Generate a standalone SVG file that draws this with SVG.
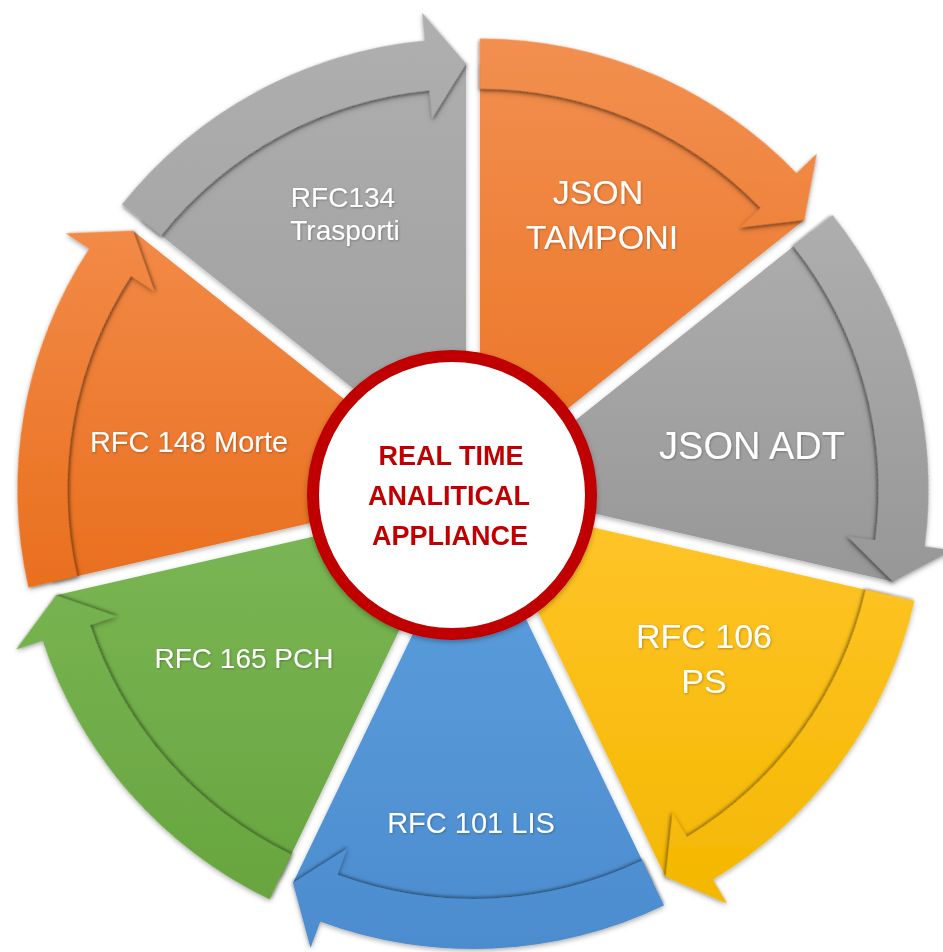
<svg xmlns="http://www.w3.org/2000/svg" width="943" height="952" viewBox="0 0 943 952">
<style>
.lbl{font-family:"Liberation Sans",Arial,sans-serif;fill:#ffffff;text-anchor:middle;filter:url(#ts)}
.ctr{font-family:"Liberation Sans",Arial,sans-serif;font-weight:bold;fill:#C00000;text-anchor:middle;font-size:27px}
</style>
<defs>
<filter id="sh" x="-10%" y="-10%" width="120%" height="120%"><feDropShadow dx="0" dy="2" stdDeviation="2.5" flood-color="#000" flood-opacity="0.3"/></filter>
<filter id="bs" x="-15%" y="-10%" width="130%" height="120%"><feDropShadow dx="-2" dy="0" stdDeviation="1.5" flood-color="#000" flood-opacity="0.35"/></filter>
<filter id="ts" x="-10%" y="-20%" width="120%" height="140%"><feDropShadow dx="0.8" dy="0.8" stdDeviation="0.8" flood-color="#000" flood-opacity="0.3"/></filter>
<path id="body" d="M0,0 L373.90,-180.06 A415,415 0 0 1 373.90,180.06 Z"/>
<path id="band" d="M396.43,-190.91 A440,440 0 0 1 412.60,152.87 L438.85,162.60 L373.90,180.06 L339.45,125.77 L365.71,135.50 A390,390 0 0 0 351.38,-169.21 Z"/>
<linearGradient id="g0" gradientUnits="userSpaceOnUse" gradientTransform="rotate(115.714)" x1="0" y1="-468" x2="0" y2="2"><stop offset="0" stop-color="#AFAFAF"/><stop offset="1" stop-color="#9E9E9E"/></linearGradient>
<linearGradient id="g1" gradientUnits="userSpaceOnUse" gradientTransform="rotate(64.286)" x1="0" y1="-438" x2="0" y2="2"><stop offset="0" stop-color="#F28F50"/><stop offset="1" stop-color="#EB7423"/></linearGradient>
<linearGradient id="g2" gradientUnits="userSpaceOnUse" gradientTransform="rotate(12.857)" x1="0" y1="-275" x2="0" y2="110"><stop offset="0" stop-color="#AEAEAE"/><stop offset="1" stop-color="#969696"/></linearGradient>
<linearGradient id="g3" gradientUnits="userSpaceOnUse" gradientTransform="rotate(-38.571)" x1="0" y1="0" x2="0" y2="407"><stop offset="0" stop-color="#FFC52A"/><stop offset="1" stop-color="#F4B700"/></linearGradient>
<linearGradient id="g4" gradientUnits="userSpaceOnUse" gradientTransform="rotate(-90)" x1="0" y1="-10" x2="0" y2="441"><stop offset="0" stop-color="#5DA0DD"/><stop offset="1" stop-color="#4C8CCF"/></linearGradient>
<linearGradient id="g5" gradientUnits="userSpaceOnUse" gradientTransform="rotate(-141.429)" x1="0" y1="37" x2="0" y2="397"><stop offset="0" stop-color="#79B553"/><stop offset="1" stop-color="#68A53F"/></linearGradient>
<linearGradient id="g6" gradientUnits="userSpaceOnUse" gradientTransform="rotate(-192.857)" x1="0" y1="-260" x2="0" y2="100"><stop offset="0" stop-color="#F28A47"/><stop offset="1" stop-color="#E96F1E"/></linearGradient>
</defs>
<rect width="943" height="952" fill="#ffffff"/>

<g id="node-rfc134">
<g filter="url(#sh)"><use href="#body" fill="url(#g0)" transform="translate(466.06 478.58) rotate(-115.714)"/></g>
<text class="lbl" font-size="28" x="343" y="207">RFC134</text>
<text class="lbl" font-size="28" x="345" y="240">Trasporti</text>
</g>
<g id="node-json-tamponi">
<g filter="url(#sh)"><use href="#body" fill="url(#g1)" transform="translate(479.94 478.58) rotate(-64.286)"/></g>
<text class="lbl" font-size="34" x="598" y="204">JSON</text>
<text class="lbl" font-size="34" x="602" y="249">TAMPONI</text>
</g>
<g id="node-json-adt">
<g filter="url(#sh)"><use href="#body" fill="url(#g2)" transform="translate(488.60 489.44) rotate(-12.857)"/></g>
<text class="lbl" font-size="38" x="752" y="459">JSON ADT</text>
</g>
<g id="node-rfc106">
<g filter="url(#sh)"><use href="#body" fill="url(#g3)" transform="translate(485.51 502.98) rotate(38.571)"/></g>
<text class="lbl" font-size="34" x="704" y="648">RFC 106</text>
<text class="lbl" font-size="34" x="704" y="693">PS</text>
</g>
<g id="node-rfc101">
<g filter="url(#sh)"><use href="#body" fill="url(#g4)" transform="translate(473 509) rotate(90)"/></g>
<text class="lbl" font-size="29" x="471" y="833">RFC 101 LIS</text>
</g>
<g id="node-rfc165">
<g filter="url(#sh)"><use href="#body" fill="url(#g5)" transform="translate(460.49 502.98) rotate(141.429)"/></g>
<text class="lbl" font-size="28" x="244" y="668">RFC 165 PCH</text>
</g>
<g id="node-rfc148">
<g filter="url(#sh)"><use href="#body" fill="url(#g6)" transform="translate(457.40 489.44) rotate(192.857)"/></g>
<text class="lbl" font-size="29" x="189" y="452">RFC 148 Morte</text>
</g>

<g id="connectors" filter="url(#sh)">
<use href="#band" fill="url(#g0)" filter="url(#bs)" transform="translate(466.06 478.58) rotate(-115.714)"/>
<use href="#band" fill="url(#g1)" filter="url(#bs)" transform="translate(479.94 478.58) rotate(-64.286)"/>
<use href="#band" fill="url(#g2)" filter="url(#bs)" transform="translate(488.60 489.44) rotate(-12.857)"/>
<use href="#band" fill="url(#g3)" filter="url(#bs)" transform="translate(485.51 502.98) rotate(38.571)"/>
<use href="#band" fill="url(#g4)" filter="url(#bs)" transform="translate(473 509) rotate(90)"/>
<use href="#band" fill="url(#g5)" filter="url(#bs)" transform="translate(460.49 502.98) rotate(141.429)"/>
<use href="#band" fill="url(#g6)" filter="url(#bs)" transform="translate(457.40 489.44) rotate(192.857)"/>
</g>

<g id="node-center">
<circle cx="452" cy="495" r="139" fill="#ffffff" stroke="#C00000" stroke-width="12" filter="url(#sh)"/>
<text class="ctr" x="451" y="465">REAL TIME</text>
<text class="ctr" x="449" y="505">ANALITICAL</text>
<text class="ctr" x="450" y="545">APPLIANCE</text>
</g>
</svg>
